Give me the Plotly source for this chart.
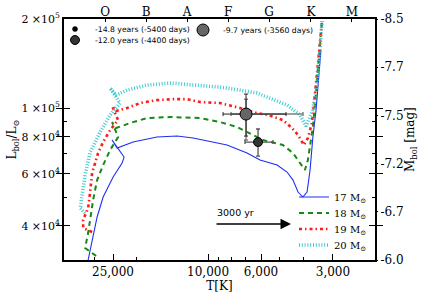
import numpy as np
import plotly.graph_objects as go

# ---------------- data ----------------
# evolutionary tracks: effective temperature [K] and luminosity [L_sun]
T17 = [31780, 30580, 29140, 27500, 24970, 22900, 22470, 25220, 24030, 20600, 16350, 13480, 11550,
       8330, 6870, 6060, 5140, 4670, 4410, 4200, 4010, 3850, 3740, 3640, 3530, 3370]
L17 = [30650, 35810, 42830, 50040, 58460, 65180, 68300, 77950, 73260, 76750, 79790, 80410, 79170,
       74990, 70470, 66720, 64180, 60780, 57100, 52020, 50040, 52020, 61730, 79790, 98450, 157000]

T18 = [29420, 32710, 31780, 30290, 29140, 27500, 25700, 23810, 25220, 24270, 21210, 18000, 14420,
       10800, 8910, 7560, 6480, 5890, 5450, 4860, 4410, 4120, 3930, 3820, 3740, 3640, 3570, 3432, 3330]
L18 = [31620, 33650, 37810, 48890, 57100, 64180, 72130, 79790, 89700, 85600, 89000, 92520, 93250,
       92520, 89700, 86270, 81040, 77950, 76750, 74990, 70470, 65180, 61730, 66720, 73830, 86270,
       102400, 145300, 198300]

T19 = [30580, 33340, 33340, 31780, 31170, 30580, 29710, 28860, 27500, 25700, 23810, 25220, 24270,
       21830, 19250, 16350, 14010, 12240, 10800, 8910, 7350, 6240, 5610, 4860, 4450, 4200, 3970,
       3820, 3740, 3670, 3570, 3432, 3330]
L19 = [38110, 39310, 41840, 45950, 52020, 60320, 65180, 70470, 76750, 84250, 91100, 101600, 97700,
       100000, 104000, 106400, 107200, 107200, 104800, 104000, 100000, 96180, 94700, 91100, 85600,
       81040, 74990, 79170, 84250, 89700, 110600, 151000, 198300]

T20 = [32710, 34320, 33670, 32710, 31170, 28310, 25700, 23350, 25700, 24270, 21830, 18000, 14420,
       10800, 8910, 7350, 6240, 5660, 4670, 4120, 3890, 3640, 3500, 3400, 3330]
L20 = [44190, 45950, 50830, 59380, 71010, 82950, 94700, 104000, 116800, 110600, 115000, 119600,
       121500, 119600, 117700, 115000, 112400, 108900, 102400, 94700, 86950, 98450, 121500, 157000,
       198300]

track_names = ["17 M<sub>⊙</sub>", "18 M<sub>⊙</sub>", "19 M<sub>⊙</sub>", "20 M<sub>⊙</sub>"]

# observed positions
obs_labels = ["-14.8 years (-5400 days)", "-12.0 years (-4400 days)", "-9.7 years (-3560 days)"]
obs_T = [None, 6177, 6934]
obs_L = [None, 76750, 95430]
# error ranges (T_hot, T_cool, L_high, L_low)
big_err_black = [8653, 4716, 111500, 80410]
big_err_gray = [8011, 4005, 107200, 77950]
mid_err = [7002, 5346, 84950, 68840]

# axis ticks
x_ticks = [25000, 10000, 6000, 3000]
x_ticktext = ["25,000", "10,000", "6,000", "3,000"]
x_minor = [30000, 20000, 9000, 8000, 7000, 5000, 4000]
y_ticks = [40000, 60000, 80000, 100000, 200000]
y_ticktext = ["4 ×10<sup>4</sup>", "6 ×10<sup>4</sup>", "8 ×10<sup>4</sup>", "1 ×10<sup>5</sup>", "2 ×10<sup>5</sup>"]
y_minor = [50000, 70000, 90000]
spec_T = [26980, 18170, 12240, 8248, 5557, 3707, 2497]
spec_labels = ["O", "B", "A", "F", "G", "K", "M"]
mbol_labels = ["-6.0", "-6.7", "-7.2", "-7.5", "-7.7", "-8.5"]

T_range = [40100, 2000]
L_range = [30650, 200000]

SERIF = "DejaVu Serif"
SANS = "DejaVu Sans"

fig = go.Figure()

styles = [
    dict(color="#1f2ff0", width=1.1, dash="solid"),
    dict(color="#138a13", width=2.0, dash="5px,4px"),
    dict(color="#ff1a1a", width=2.6, dash="3px,3px,1.5px,3px"),
    dict(color="#3cc8d0", width=3.6, dash="1px,1.8px"),
]
tracks = [(T17, L17), (T18, L18), (T19, L19), (T20, L20)]
legend_ids = ["legend", "legend2", "legend3", "legend4"]
for (T, L), name, st, lg in zip(tracks, track_names, styles, legend_ids):
    fig.add_trace(go.Scatter(x=T, y=L, mode="lines", name=name, line=st, legend=lg,
                             hoverinfo="skip"))

# big observed point: gray error bars, then black error bars
bT, bL = obs_T[2], obs_L[2]
fig.add_trace(go.Scatter(
    x=[bT], y=[bL], mode="markers", marker=dict(size=1, color="rgba(0,0,0,0)"), showlegend=False,
    error_x=dict(type="data", symmetric=False, array=[big_err_gray[0] - bT], arrayminus=[bT - big_err_gray[1]],
                 color="#808080", thickness=1.5, width=2),
    error_y=dict(type="data", symmetric=False, array=[big_err_gray[2] - bL], arrayminus=[bL - big_err_gray[3]],
                 color="#808080", thickness=1.5, width=2)))
fig.add_trace(go.Scatter(
    x=[bT], y=[bL], mode="markers", marker=dict(size=1, color="rgba(0,0,0,0)"), showlegend=False,
    error_x=dict(type="data", symmetric=False, array=[big_err_black[0] - bT], arrayminus=[bT - big_err_black[1]],
                 color="#222222", thickness=1.0, width=2),
    error_y=dict(type="data", symmetric=False, array=[big_err_black[2] - bL], arrayminus=[bL - big_err_black[3]],
                 color="#222222", thickness=1.0, width=2)))

mT, mL = obs_T[1], obs_L[1]
fig.add_trace(go.Scatter(
    x=[mT], y=[mL], mode="markers", marker=dict(size=1, color="rgba(0,0,0,0)"), showlegend=False,
    error_x=dict(type="data", symmetric=False, array=[mid_err[0] - mT], arrayminus=[mT - mid_err[1]],
                 color="#555555", thickness=1.3, width=2),
    error_y=dict(type="data", symmetric=False, array=[mid_err[2] - mL], arrayminus=[mL - mid_err[3]],
                 color="#555555", thickness=1.3, width=2)))

obs_marker = [
    dict(size=5, color="black", line=dict(width=0.5, color="black")),
    dict(size=9, color="#333333", line=dict(width=1, color="black")),
    dict(size=12, color="#666666", line=dict(width=1, color="black")),
]
obs_legends = ["legend5", "legend6", "legend7"]
for i in range(3):
    fig.add_trace(go.Scatter(x=[obs_T[i]], y=[obs_L[i]], mode="markers", name=obs_labels[i],
                             marker=obs_marker[i], legend=obs_legends[i], hoverinfo="skip"))

# helper traces to activate the overlay axes (top classes, right magnitudes, minor ticks)
for xa, ya in [("x2", "y"), ("x", "y2"), ("x3", "y"), ("x", "y3")]:
    fig.add_trace(go.Scatter(x=[None], y=[None], xaxis=xa, yaxis=ya, showlegend=False, hoverinfo="skip"))

W, H = 423, 297
ml, mr, mt, mb = 64, 48, 19, 37
pw, ph = W - ml - mr, H - mt - mb


def px2paper(px, py):
    return (px - ml) / pw, (H - mb - py) / ph


xr = [np.log10(T_range[0]), np.log10(T_range[1])]
yr = [np.log10(L_range[0]), np.log10(L_range[1])]
plain = dict(showgrid=False, zeroline=False, automargin=False, tickcolor="black", tickwidth=1.2)

fig.update_layout(
    width=W, height=H, margin=dict(l=ml, r=mr, t=mt, b=mb, autoexpand=False),
    paper_bgcolor="white", plot_bgcolor="white",
    font=dict(family=SERIF, size=12, color="black"),
    xaxis=dict(type="log", range=xr, tickvals=x_ticks, ticktext=x_ticktext, ticks="inside", ticklen=6,
               showline=True, linecolor="black", linewidth=1.6, mirror=True,
               title=dict(text="T[K]", standoff=0, font=dict(size=12)),
               tickfont=dict(size=12), **plain),
    xaxis2=dict(type="log", range=xr, overlaying="x", side="top", tickvals=spec_T, ticktext=spec_labels,
                ticks="inside", ticklen=3, tickfont=dict(size=12), showline=False, **plain),
    xaxis3=dict(type="log", range=xr, overlaying="x", side="bottom", tickvals=x_minor,
                showticklabels=False, ticks="inside", ticklen=3, showline=False, **plain),
    yaxis=dict(type="log", range=yr, tickvals=y_ticks, ticktext=y_ticktext, ticks="inside", ticklen=6,
               showline=True, linecolor="black", linewidth=1.6, mirror="allticks",
               title=dict(text="L<sub>bol</sub>/L<sub>⊙</sub>", standoff=2, font=dict(size=12)),
               tickfont=dict(size=11), **plain),
    yaxis2=dict(range=[0, 5], overlaying="y", side="right", tickvals=list(range(6)),
                ticktext=mbol_labels, ticks="outside", ticklen=2, showline=False,
                tickfont=dict(size=12), **plain),
    yaxis3=dict(type="log", range=yr, overlaying="y", side="left", tickvals=y_minor,
                showticklabels=False, ticks="inside", ticklen=3, showline=False, mirror="allticks",
                **plain),
    showlegend=True,
)

# right-hand axis title
rx, ry = px2paper(411, 140)
fig.add_annotation(x=rx, y=ry, xref="paper", yref="paper", text="M<sub>bol</sub> [mag]",
                   textangle=-90, showarrow=False, xanchor="center", yanchor="middle",
                   font=dict(family=SERIF, size=12, color="black"))

# legends for the tracks
track_rows = [197, 213, 229, 245]
for lg, row in zip(legend_ids, track_rows):
    x, y = px2paper(294, row)
    fig.update_layout({lg: dict(x=x, y=y, xanchor="left", yanchor="middle", bgcolor="rgba(0,0,0,0)",
                                borderwidth=0, font=dict(family=SERIF, size=10), itemwidth=30)})

obs_pos = [(55, 29), (55, 40), (183, 30)]
for lg, (px, py) in zip(obs_legends, obs_pos):
    x, y = px2paper(px, py)
    fig.update_layout({lg: dict(x=x, y=y, xanchor="left", yanchor="middle", bgcolor="rgba(0,0,0,0)",
                                borderwidth=0, font=dict(family=SANS, size=7.7), itemsizing="trace",
                                itemwidth=30)})

# 3000 yr arrow
hx, hy = px2paper(291, 224)
fig.add_annotation(x=hx, y=hy, xref="paper", yref="paper", ax=-76, ay=0, text="",
                   showarrow=True, arrowhead=2, arrowsize=1.4, arrowwidth=1.5, arrowcolor="black")
tx, ty = px2paper(215, 212)
fig.add_annotation(x=tx, y=ty, xref="paper", yref="paper", text="3000 yr", showarrow=False,
                   xanchor="left", yanchor="middle", font=dict(family=SANS, size=9.5, color="black"))

# the page body has a default 8px margin; remove it so the figure sits at the window corner
fig.write_html("out.html", config={"displayModeBar": False},
               post_script="document.body.style.margin='0px';")
